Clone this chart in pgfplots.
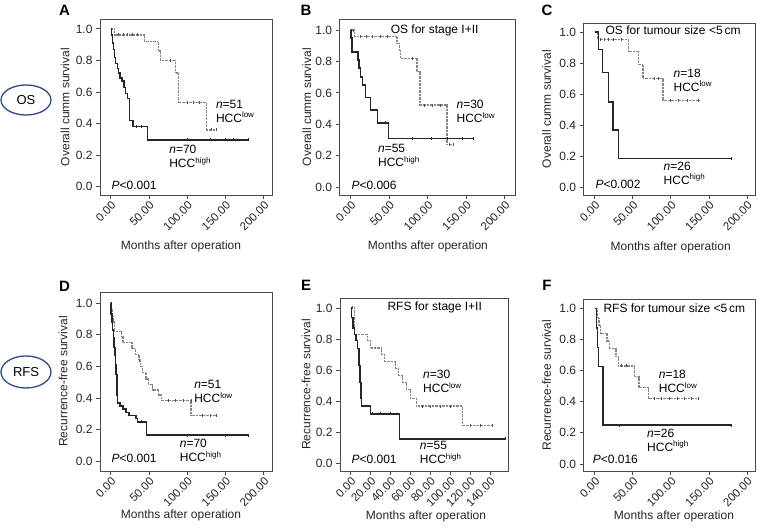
\documentclass[border=0pt]{standalone}
\usepackage{fontspec}
\setmainfont{Liberation Sans}
\usepackage{pgfplots}
\pgfplotsset{compat=1.18}
\definecolor{hi}{HTML}{262626}
\definecolor{lo}{HTML}{858585}
\definecolor{ellblue}{HTML}{2F4A86}
\definecolor{axc}{HTML}{4A4A4A}
\newcommand{\tfont}{\fontsize{12}{14}\selectfont}
\newcommand{\xtfont}{\fontsize{11.5}{13}\selectfont}
\newcommand{\lfont}{\fontsize{12}{14}\selectfont}
\newcommand{\ifont}{\fontsize{12}{14}\selectfont}
\pgfplotsset{
  km/.style={
    scale only axis, anchor=south west,
    tick align=outside, tick pos=left,
    axis line style={axc, line width=0.9pt},
    major tick style={axc, line width=0.9pt},
    major tick length=4pt,
    ytick={0,0.2,0.4,0.6,0.8,1.0},
    /pgf/number format/assume math mode=true,
    yticklabel style={font=\tfont, text=black!85, /pgf/number format/.cd, fixed, fixed zerofill, precision=1},
    xticklabel style={font=\xtfont, text=black!85, rotate=45, anchor=north east, inner sep=1pt, /pgf/number format/.cd, fixed, fixed zerofill, precision=2},
    label style={font=\lfont, text=black!85},
    clip=false,
  },
  hiplot/.style={const plot, hi, line width=1.5pt, no markers},
  loplot/.style={const plot, lo, line width=1.3pt, dash pattern=on 0.9pt off 0.5pt, no markers},
  hicens/.style={only marks, mark=|, mark size=1.5pt, hi, mark options={line width=0.8pt, solid}},
  locens/.style={only marks, mark=|, mark size=1.5pt, lo!60!black, mark options={line width=0.8pt, solid}},
}
\begin{document}
\begin{tikzpicture}[x=1pt,y=1pt]
\useasboundingbox (0,0) rectangle (758,530);
% row labels
\draw[ellblue, line width=1.3pt] (26,430) ellipse (25 and 15);
\node[font=\fontsize{13}{15}\selectfont] at (26,430) {OS};
\draw[ellblue, line width=1.3pt] (26,158) ellipse (25 and 16);
\node[font=\fontsize{13}{15}\selectfont] at (26,158) {RFS};
% panel letters
\node[font=\fontsize{15}{17}\selectfont\bfseries] at (64.5,520) {A};
\node[font=\fontsize{15}{17}\selectfont\bfseries] at (306,520) {B};
\node[font=\fontsize{15}{17}\selectfont\bfseries] at (547,520) {C};
\node[font=\fontsize{15}{17}\selectfont\bfseries] at (64.5,244) {D};
\node[font=\fontsize{15}{17}\selectfont\bfseries] at (306,245) {E};
\node[font=\fontsize{15}{17}\selectfont\bfseries] at (547,245) {F};

% ---------- A ----------
\begin{axis}[km, at={(100pt,335pt)}, width=172pt, height=176pt,
  xmin=-14, xmax=210.8, ymin=-0.053, ymax=1.063, xtick={0,50,100,150,200},
  ylabel={Overall cumm survival}, xlabel={Months after operation},
  ylabel style={at={(axis description cs:-0.203,0.5)}, anchor=center},
  xlabel style={at={(axis description cs:0.471,-0.294)}, anchor=center}]
\addplot[loplot] coordinates {(0,1) (5,0.962) (44,0.92) (62,0.86) (65,0.80) (85,0.72) (89,0.535) (125,0.36) (138,0.36)};
\addplot[locens] coordinates {(10,0.962) (16,0.962) (22,0.962) (28,0.962) (35,0.962) (78,0.80) (100,0.535) (108,0.535) (116,0.535) (132,0.36) (138,0.36)};
\addplot[hiplot] coordinates {(0,1) (0.9,0.96) (2.2,0.91) (3.5,0.87) (5.2,0.82) (6.5,0.78) (8.7,0.75) (10.5,0.72) (12.2,0.69) (14.8,0.67) (17.4,0.63) (19.2,0.59) (21.8,0.56) (24.8,0.42) (29.2,0.38) (47.9,0.296) (180,0.296)};
\addplot[hicens] coordinates {(33,0.38) (40,0.38) (100,0.296) (130,0.296) (150,0.296) (160,0.296) (180,0.296)};
\node[font=\ifont, anchor=west, align=left] at (axis cs:133,0.48) {\textit{n}=51\\HCC\textsuperscript{low}};
\node[font=\ifont, anchor=west, align=left] at (axis cs:72,0.19) {\textit{n}=70\\HCC\textsuperscript{high}};
\node[font=\ifont, anchor=west] at (axis cs:-3.5,0.005) {\textit{P}<0.001};
\end{axis}

% ---------- B ----------
\begin{axis}[km, at={(339.7pt,335pt)}, width=175.3pt, height=176pt,
  xmin=-14.3, xmax=213.4, ymin=-0.049, ymax=1.07, xtick={0,50,100,150,200},
  ylabel={Overall cumm survival}, xlabel={Months after operation},
  ylabel style={at={(axis description cs:-0.188,0.5)}, anchor=center},
  xlabel style={at={(axis description cs:0.503,-0.294)}, anchor=center}]
\addplot[loplot] coordinates {(0,1) (5,0.958) (60,0.915) (63,0.87) (65,0.82) (86,0.735) (90,0.523) (125,0.27) (133,0.27)};
\addplot[locens] coordinates {(3,1) (12,0.958) (20,0.958) (28,0.958) (38,0.958) (48,0.958) (80,0.82) (96,0.523) (106,0.523) (116,0.523) (128,0.27) (133,0.27)};
\addplot[hiplot] coordinates {(0,1) (0.5,0.95) (1.5,0.86) (9.5,0.81) (11,0.76) (13,0.70) (15,0.65) (19.5,0.57) (25.5,0.49) (34.6,0.41) (49,0.31) (159,0.31)};
\addplot[hicens] coordinates {(45,0.41) (80,0.31) (105,0.31) (125,0.31) (145,0.31) (159,0.31)};
\node[font=\ifont] at (axis cs:109,1.0) {OS for stage I+II};
\node[font=\ifont, anchor=west, align=left] at (axis cs:133,0.483) {\textit{n}=30\\HCC\textsuperscript{low}};
\node[font=\ifont, anchor=west, align=left] at (axis cs:31,0.2) {\textit{n}=55\\HCC\textsuperscript{high}};
\node[font=\ifont, anchor=west] at (axis cs:-3.5,0.015) {\textit{P}<0.006};
\end{axis}

% ---------- C ----------
\begin{axis}[km, at={(583.7pt,335pt)}, width=171.3pt, height=172pt,
  xmin=-14.4, xmax=210.4, ymin=-0.0496, ymax=1.058, xtick={0,50,100,150,200},
  ylabel={Overall cumm survival}, xlabel={Months after operation},
  ylabel style={at={(axis description cs:-0.216,0.5)}, anchor=center},
  xlabel style={at={(axis description cs:0.508,-0.305)}, anchor=center}]
\addplot[loplot] coordinates {(0,1) (4.5,0.95) (44.6,0.876) (57.8,0.79) (63.5,0.70) (89.7,0.56) (136.5,0.56)};
\addplot[locens] coordinates {(8,0.95) (13,0.95) (18,0.95) (25,0.95) (35,0.95) (78,0.70) (84,0.70) (100,0.56) (110,0.56) (122,0.56) (136,0.56)};
\addplot[hiplot] coordinates {(0,1) (5.2,0.886) (10.5,0.74) (18.4,0.55) (24,0.37) (31.5,0.185) (179.4,0.185)};
\addplot[hicens] coordinates {(179,0.185)};
\node[font=\ifont] at (axis cs:103,1.01) {OS for tumour size <5\,cm};
\node[font=\ifont, anchor=west, align=left] at (axis cs:99,0.69) {\textit{n}=18\\HCC\textsuperscript{low}};
\node[font=\ifont, anchor=west, align=left] at (axis cs:86,0.092) {\textit{n}=26\\HCC\textsuperscript{high}};
\node[font=\ifont, anchor=west] at (axis cs:-3.5,0.017) {\textit{P}<0.002};
\end{axis}

% ---------- D ----------
\begin{axis}[km, at={(100pt,59pt)}, width=172pt, height=179pt,
  xmin=-14, xmax=210.8, ymin=-0.061, ymax=1.07, xtick={0,50,100,150,200},
  ylabel={Recurrence-free survival}, xlabel={Months after operation},
  ylabel style={at={(axis description cs:-0.215,0.5)}, anchor=center},
  xlabel style={at={(axis description cs:0.471,-0.248)}, anchor=center}]
\addplot[loplot] coordinates {(0,1) (0.8,0.96) (1.8,0.92) (3,0.88) (4.5,0.82) (14,0.79) (16,0.75) (28,0.715) (32,0.675) (37,0.64) (39,0.60) (42,0.56) (46,0.52) (49,0.485) (55,0.45) (62,0.42) (66,0.385) (105,0.29) (138,0.29)};
\addplot[locens] coordinates {(38,0.64) (75,0.385) (85,0.385) (95,0.385) (105,0.385) (120,0.29) (130,0.29) (138,0.29)};
\addplot[hiplot] coordinates {(0,1) (0.5,0.93) (1.5,0.88) (2.5,0.83) (3.5,0.78) (4.5,0.72) (5.5,0.67) (6.5,0.61) (7,0.55) (8,0.48) (8.5,0.42) (9,0.37) (12,0.35) (16,0.33) (20,0.31) (24,0.29) (33,0.27) (35,0.25) (47,0.165) (180,0.165)};
\addplot[hicens] coordinates {(40,0.25) (100,0.165) (150,0.165) (180,0.165)};
\node[font=\ifont, anchor=west, align=left] at (axis cs:104.6,0.442) {\textit{n}=51\\HCC\textsuperscript{low}};
\node[font=\ifont, anchor=west, align=left] at (axis cs:85.8,0.07) {\textit{n}=70\\HCC\textsuperscript{high}};
\node[font=\ifont, anchor=west] at (axis cs:-3.5,0.02) {\textit{P}<0.001};
\end{axis}

% ---------- E ----------
\begin{axis}[km, at={(340pt,59pt)}, width=168.3pt, height=173pt,
  xmin=-10.8, xmax=158.4, ymin=-0.047, ymax=1.064, xtick={0,20,40,60,80,100,120,140},
  ylabel={Recurrence-free survival}, xlabel={Months after operation},
  ylabel style={at={(axis description cs:-0.202,0.5)}, anchor=center},
  xlabel style={at={(axis description cs:0.511,-0.26)}, anchor=center}]
\addplot[loplot] coordinates {(0,1) (4,0.83) (17,0.79) (20,0.743) (31,0.70) (34,0.655) (45,0.61) (48,0.565) (52,0.52) (56,0.475) (60,0.42) (66,0.37) (112,0.245) (142,0.245)};
\addplot[locens] coordinates {(2,1) (72,0.37) (80,0.37) (90,0.37) (100,0.37) (120,0.245) (130,0.245) (142,0.245)};
\addplot[hiplot] coordinates {(0,1) (1,0.94) (2.5,0.87) (4,0.83) (5.5,0.79) (7,0.74) (8.5,0.63) (9.5,0.52) (10.5,0.42) (11,0.37) (20,0.32) (49,0.16) (155,0.16)};
\addplot[hicens] coordinates {(22,0.32) (30,0.32) (40,0.32) (155,0.16)};
\node[font=\ifont] at (axis cs:84.4,1.006) {RFS for stage I+II};
\node[font=\ifont, anchor=west, align=left] at (axis cs:69.3,0.529) {\textit{n}=30\\HCC\textsuperscript{low}};
\node[font=\ifont, anchor=west, align=left] at (axis cs:66,0.07) {\textit{n}=55\\HCC\textsuperscript{high}};
\node[font=\ifont, anchor=west] at (axis cs:-2.7,0.03) {\textit{P}<0.001};
\end{axis}

% ---------- F ----------
\begin{axis}[km, at={(583.7pt,59pt)}, width=171.3pt, height=172pt,
  xmin=-14.4, xmax=210.4, ymin=-0.045, ymax=1.06, xtick={0,50,100,150,200},
  ylabel={Recurrence-free survival}, xlabel={Months after operation},
  ylabel style={at={(axis description cs:-0.216,0.5)}, anchor=center},
  xlabel style={at={(axis description cs:0.527,-0.262)}, anchor=center}]
\addplot[loplot] coordinates {(0,1) (3.5,0.94) (5.5,0.89) (8,0.84) (16,0.79) (19,0.74) (28,0.69) (31,0.63) (52,0.56) (58,0.49) (71,0.42) (136,0.42)};
\addplot[locens] coordinates {(35,0.63) (42,0.63) (78,0.42) (88,0.42) (98,0.42) (108,0.42) (118,0.42) (127,0.42) (136,0.42)};
\addplot[hiplot] coordinates {(0,1) (2.5,0.875) (3.5,0.75) (5,0.625) (11,0.25) (180,0.25)};
\addplot[hicens] coordinates {(33,0.25) (180,0.25)};
\node[font=\ifont] at (axis cs:104.6,1.0) {RFS for tumour size <5\,cm};
\node[font=\ifont, anchor=west, align=left] at (axis cs:79.6,0.529) {\textit{n}=18\\HCC\textsuperscript{low}};
\node[font=\ifont, anchor=west, align=left] at (axis cs:64.3,0.154) {\textit{n}=26\\HCC\textsuperscript{high}};
\node[font=\ifont, anchor=west] at (axis cs:-7,0.032) {\textit{P}<0.016};
\end{axis}
\end{tikzpicture}
\end{document}
